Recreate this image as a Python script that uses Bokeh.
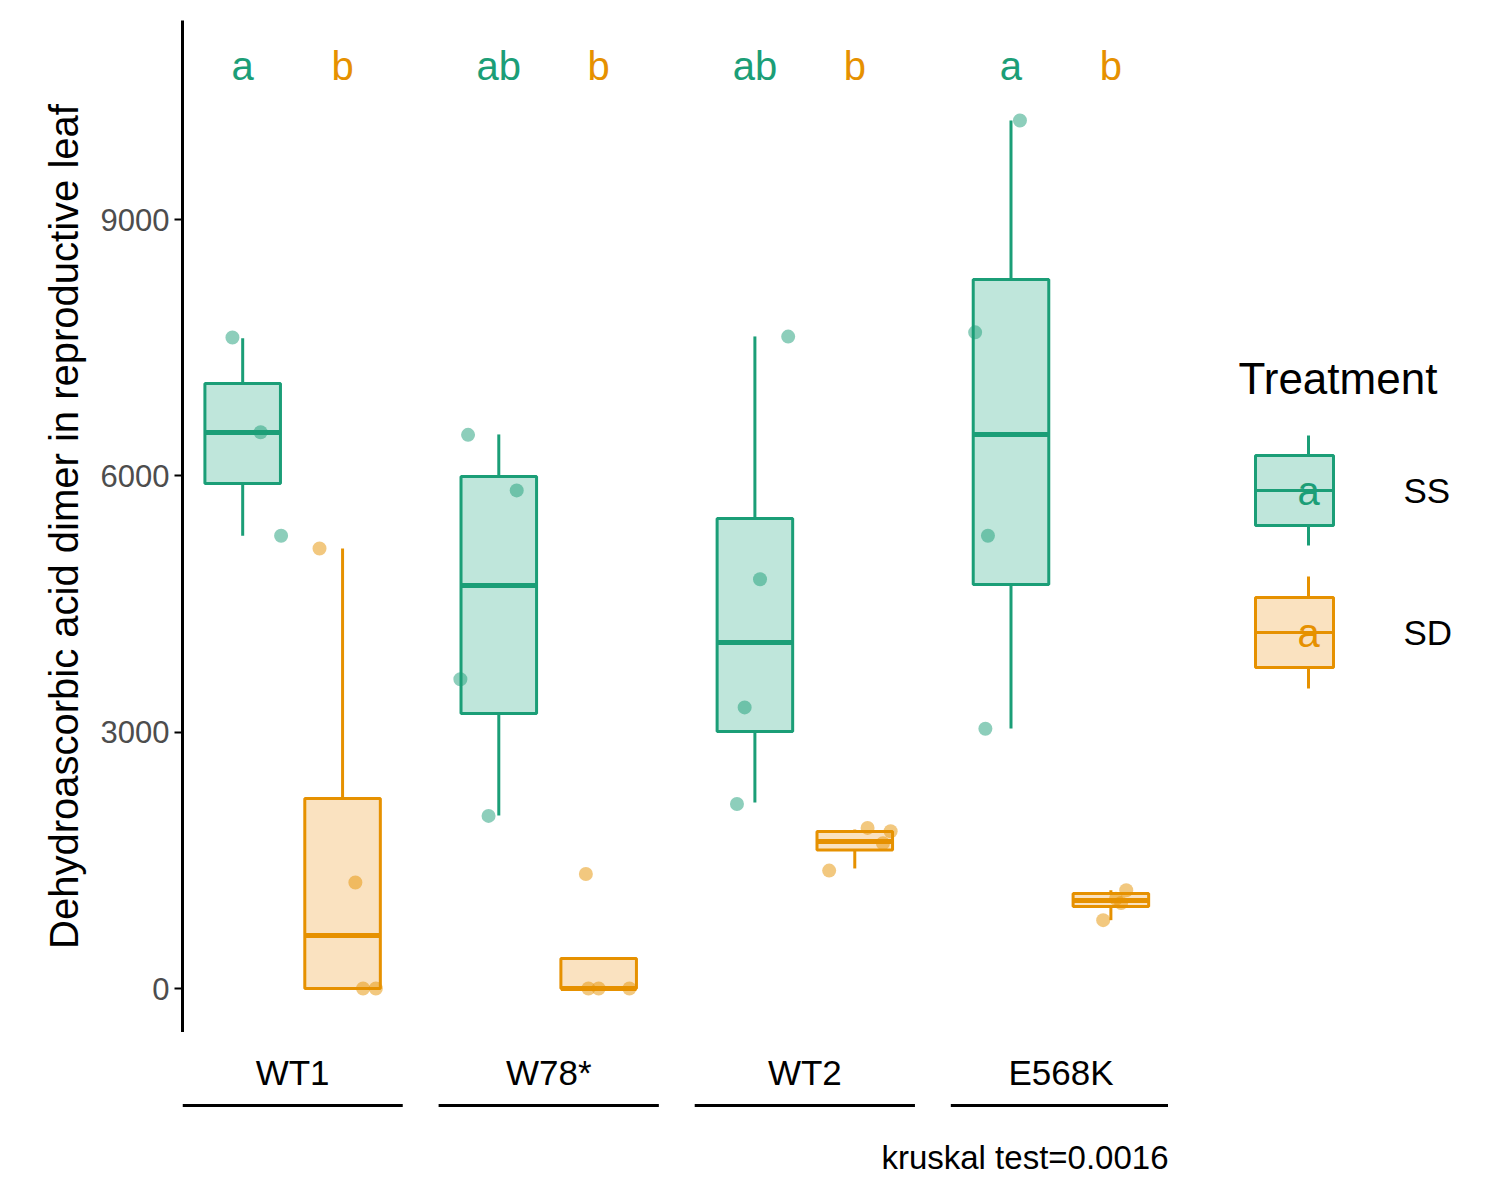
from bokeh.plotting import figure
from bokeh.layouts import row, column
from bokeh.models import Range1d, FixedTicker
from bokeh.embed import file_html
from bokeh.resources import INLINE
from bokeh.core.properties import value

genotypes = ["WT1", "W78*", "WT2", "E568K"]
treatments = ["SS", "SD"]
colors = {"SS": "#1B9E77", "SD": "#E69100"}
fills = {"SS": "#BFE6DB", "SD": "#FAE2C0"}
# per genotype: [lower whisker, q1, median, q3, upper whisker]
stats = {
    "SS": [[5300, 5911, 6508, 7081, 7610], [2025, 3219, 4717, 5993, 6485],
           [2177, 3008, 4050, 5501, 7632], [3043, 4729, 6485, 8299, 10160]],
    "SD": [[0, 0, 620, 2224, 5150], [0, 0, 0, 351, 351],
           [1405, 1620, 1720, 1838, 1860], [800, 960, 1030, 1112, 1150]],
}
points = {
    "SS": [[7620, 6510, 5300], [6480, 5830, 3620, 2020],
           [7630, 4790, 3290, 2160], [10160, 7680, 5300, 3040]],
    "SD": [[5150, 1240, 0, 0], [1340, 0, 0, 0],
           [1380, 1880, 1840, 1700], [800, 1150, 1050, 1000]],
}
jitter = {
    "SS": [[-0.04, 0.07, 0.15], [-0.12, 0.07, -0.15, -0.04],
           [0.13, 0.02, -0.04, -0.07], [0.035, -0.14, -0.09, -0.10]],
    "SD": [[-0.09, 0.05, 0.08, 0.13], [-0.05, -0.04, 0.00, 0.12],
           [-0.1, 0.05, 0.14, 0.11], [-0.03, 0.06, 0.02, 0.04]],
}
letters = {"SS": ["a", "ab", "ab", "a"], "SD": ["b", "b", "b", "b"]}
yticks = [0, 3000, 6000, 9000]
offset = {"SS": -0.195, "SD": 0.195}
FONT = "Liberation Sans"

p = figure(width=1168, height=1032, output_backend="svg", toolbar_location=None,
           x_range=Range1d(0.57, 4.42), y_range=Range1d(-515, 11330),
           min_border_left=182, min_border_top=20, min_border_right=0, min_border_bottom=0)
p.xaxis.visible = False
p.grid.visible = False
p.outline_line_color = None
p.yaxis.ticker = FixedTicker(ticks=yticks)
p.yaxis.minor_tick_line_color = None
p.yaxis.major_label_text_font_size = "31px"
p.yaxis.major_label_text_color = "#4D4D4D"
p.yaxis.major_label_text_font = FONT
p.yaxis.axis_line_width = 3
p.yaxis.major_tick_line_width = 2
p.yaxis.major_tick_in = 0
p.yaxis.major_tick_out = 8
p.yaxis.axis_label = "Dehydroascorbic acid dimer in reproductive leaf"
p.yaxis.axis_label_text_font_size = "40px"
p.yaxis.axis_label_text_font_style = "normal"
p.yaxis.axis_label_text_font = FONT
p.yaxis.axis_label_text_color = "black"
p.yaxis.axis_label_standoff = 12

for t in treatments:
    c = colors[t]
    for i, g in enumerate(genotypes):
        x = i + 1 + offset[t]
        lo, q1, med, q3, hi = stats[t][i]
        p.segment([x, x], [lo, q3], [x, x], [q1, hi], line_color=c, line_width=3)
        p.vbar(x=[x], width=0.295, bottom=[q1], top=[q3], fill_color=fills[t],
               line_color=c, line_width=3)
        p.segment([x - 0.1475], [med], [x + 0.1475], [med], line_color=c, line_width=5)
        xs = [x + j for j in jitter[t][i]]
        p.scatter(xs, points[t][i], size=14, color=c, alpha=0.5, line_color=None)
        p.text([x], [10800], text=[letters[t][i]], text_color=c, text_align="center",
               text_baseline="middle", text_font_size="40px", text_font=value(FONT))

b = figure(width=1168, height=160, output_backend="svg", toolbar_location=None,
           x_range=p.x_range, y_range=Range1d(160, 0),
           min_border_left=182, min_border_top=0, min_border_right=0, min_border_bottom=0)
b.axis.visible = False
b.grid.visible = False
b.outline_line_color = None
gx = [i + 1 for i in range(len(genotypes))]
b.text(gx, [40] * 4, text=genotypes, text_align="center", text_baseline="middle",
       text_font_size="35px", text_font=value(FONT), text_color="black")
b.segment([x - 0.43 for x in gx], [73] * 4, [x + 0.43 for x in gx], [73] * 4,
          line_color="black", line_width=3)
b.text([4.42], [125], text=["kruskal test=0.0016"], text_align="right",
       text_baseline="middle", text_font_size="33px", text_font=value(FONT),
       text_color="black")

lg = figure(width=320, height=1192, output_backend="svg", toolbar_location=None,
            x_range=Range1d(0, 320), y_range=Range1d(1192, 0),
            min_border=0)
lg.axis.visible = False
lg.grid.visible = False
lg.outline_line_color = None
lg.text([70], [378], text=["Treatment"], text_baseline="middle",
        text_font_size="44px", text_font=value(FONT), text_color="black")
keys = {"SS": (455, 490, 525, 435, 545), "SD": (597, 632, 667, 576, 688)}
for t in treatments:
    c = colors[t]
    top, med, bot, wt, wb = keys[t]
    lg.segment([140, 140], [wt, bot], [140, 140], [top, wb], line_color=c, line_width=3)
    lg.quad(left=[87], right=[165], top=[top], bottom=[bot], fill_color=fills[t],
            line_color=c, line_width=3)
    lg.segment([87], [med], [165], [med], line_color=c, line_width=3)
    lg.text([140], [med], text=["a"], text_color=c, text_align="center",
            text_baseline="middle", text_font_size="40px", text_font=value(FONT))
    lg.text([235], [med], text=[t], text_baseline="middle",
            text_font_size="35px", text_font=value(FONT), text_color="black")

layout = row(column(p, b), lg)
open("out.html", "w").write(file_html(layout, INLINE))
